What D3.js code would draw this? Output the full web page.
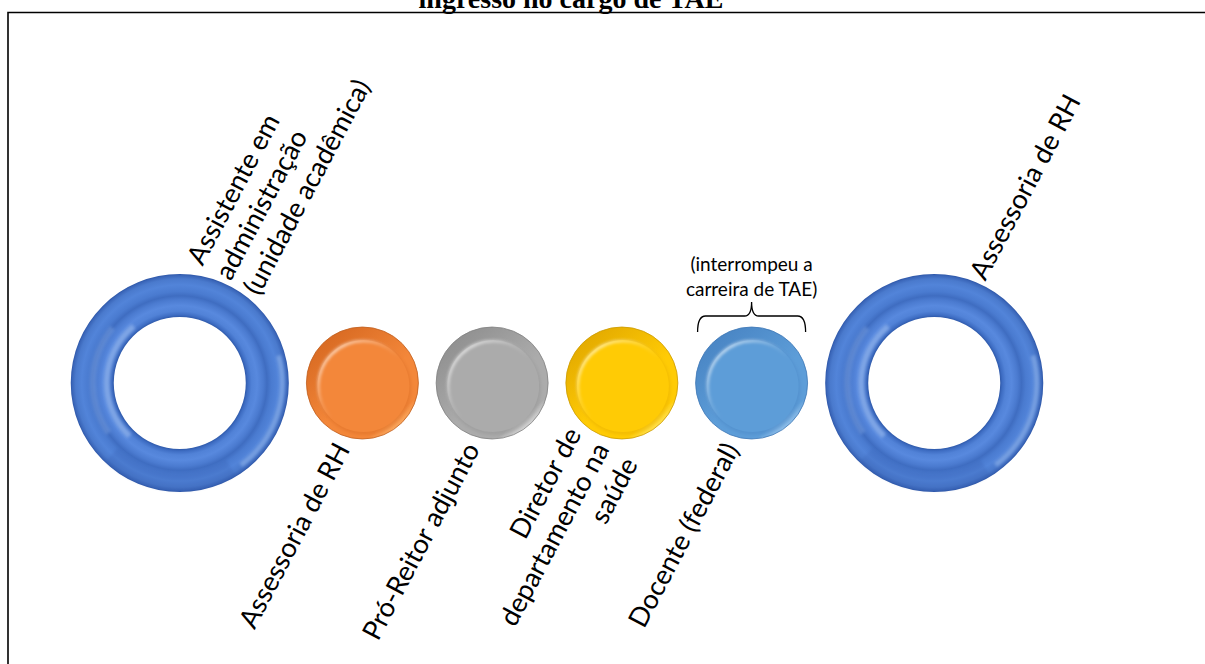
<!DOCTYPE html>
<html>
<head>
<meta charset="utf-8">
<script src="https://cdn.jsdelivr.net/npm/d3@7"></script>
<style>
  html, body { margin: 0; padding: 0; background: #fff; }
  svg { display: block; }
</style>
</head>
<body>
<svg id="chart" width="1205" height="664"></svg>
<script>
// ---- content ----------------------------------------------------------
const titleText = "ingresso no cargo de TAE";
const stageLabels = [
  ["Assistente em", "administração", "(unidade acadêmica)"],
  ["Assessoria de RH"],
  ["Pró-Reitor adjunto"],
  ["Diretor de", "departamento na", "saúde"],
  ["Docente (federal)"],
  ["Assessoria de RH"]
];
const stageKinds = ["ring", "dot", "dot", "dot", "dot", "ring"];
const stageTones = ["blue", "orange", "gray", "gold", "sky", "blue"];
const noteLines = ["(interrompeu a", "carreira de TAE)"];
const noteStage = 4;

// ---- layout constants -------------------------------------------------
const W = 1205, H = 664;
const RING_R = 109, RING_IN = 66, DOT_R = 56, GAP = 18;
const CY = 383;
const LABEL_ROT = -62;
const LABEL_FONT = "Lato, 'Open Sans', sans-serif";

const palettes = {
  orange: { dark: "#d8692195", base: "#f3873a", light: "#ffc27c", edge: "#c0601f" },
  gray:   { dark: "#909090", base: "#ababab", light: "#f2f2f2", edge: "#808080" },
  gold:   { dark: "#e3aa00", base: "#ffcb05", light: "#fff18a", edge: "#cc9a00" },
  sky:    { dark: "#4985c4", base: "#5d9dd8", light: "#b6d8f6", edge: "#4079b6" }
};
palettes.orange.dark = "#d86a22";

const svg = d3.select("#chart");
const defs = svg.append("defs");

// cumulative horizontal extent of each stage (diameters + gaps)
const radii = stageKinds.map(k => k === "ring" ? RING_R : DOT_R);
const centersU = [];
let acc = 0;
radii.forEach((r, i) => {
  if (i > 0) acc += GAP;
  centersU.push(acc + r);
  acc += 2 * r;
});
const x = d3.scaleLinear().domain([0, acc]).range([71, 1043]);
const cx = centersU.map(u => x(u));

// ---- frame & title ----------------------------------------------------
svg.append("path")
  .attr("d", `M8,${H} L8,12.5 L${W},12.5`)
  .attr("fill", "none").attr("stroke", "#000").attr("stroke-width", 1.6);

svg.append("text")
  .attr("x", 571).attr("y", 8)
  .attr("text-anchor", "middle")
  .attr("font-family", "'Liberation Serif', 'Times New Roman', serif")
  .attr("font-weight", "bold")
  .attr("font-size", 28)
  .text(titleText);

// ---- gradients & filters ----------------------------------------------
const soft = defs.append("filter").attr("id", "soft")
  .attr("x", "-20%").attr("y", "-20%").attr("width", "140%").attr("height", "140%");
soft.append("feGaussianBlur").attr("stdDeviation", 1.8);

const ringStops = [
  [RING_IN / RING_R, "#2f5aab"],
  [0.625, "#3e6dc3"],
  [0.66, "#5182d7"],
  [0.71, "#5889de"],
  [0.765, "#4b7bd0"],
  [0.80, "#3f6dc1"],
  [0.84, "#4a7bd0"],
  [0.90, "#5284d9"],
  [0.955, "#4a7acd"],
  [0.985, "#3b67ba"],
  [1.0, "#2e57a8"]
];
const rg = defs.append("radialGradient").attr("id", "ringGrad")
  .attr("cx", 0.5).attr("cy", 0.5).attr("r", 0.5);
rg.selectAll("stop").data(ringStops).join("stop")
  .attr("offset", d => d[0]).attr("stop-color", d => d[1]);

Object.entries(palettes).forEach(([key, p]) => {
  const rim = defs.append("linearGradient").attr("id", `rim-${key}`)
    .attr("x1", 0.15).attr("y1", 0.1).attr("x2", 0.85).attr("y2", 0.95);
  rim.append("stop").attr("offset", 0).attr("stop-color", p.dark);
  rim.append("stop").attr("offset", 0.55).attr("stop-color", p.base);
  rim.append("stop").attr("offset", 0.85).attr("stop-color", p.base);
  rim.append("stop").attr("offset", 1).attr("stop-color", p.light);
});

const gloss = defs.append("linearGradient").attr("id", "gloss")
  .attr("x1", 0.1).attr("y1", 0.15).attr("x2", 0.6).attr("y2", 0.7);
gloss.append("stop").attr("offset", 0).attr("stop-color", "#fff").attr("stop-opacity", 0.7);
gloss.append("stop").attr("offset", 0.5).attr("stop-color", "#fff").attr("stop-opacity", 0.15);
gloss.append("stop").attr("offset", 0.75).attr("stop-color", "#fff").attr("stop-opacity", 0);

// ---- stages -----------------------------------------------------------
const arc = d3.arc();
const stages = svg.append("g").selectAll("g")
  .data(stageKinds.map((k, i) => ({ kind: k, tone: stageTones[i], lines: stageLabels[i], x: cx[i], r: radii[i], i })))
  .join("g")
  .attr("transform", d => `translate(${d.x},${CY})`);

// rings (torus look)
const rings = stages.filter(d => d.kind === "ring");
rings.append("path")
  .attr("d", arc({ innerRadius: RING_IN, outerRadius: RING_R, startAngle: 0, endAngle: 2 * Math.PI }))
  .attr("fill", "url(#ringGrad)");
// soft light on the left of the inner band
rings.append("path")
  .attr("d", arc({ innerRadius: 70, outerRadius: 76, startAngle: 3.9, endAngle: 5.6 }))
  .attr("fill", "#a9c6f3").attr("opacity", 0.5).attr("filter", "url(#soft)");
rings.append("path")
  .attr("d", arc({ innerRadius: 84, outerRadius: 90, startAngle: 4.1, endAngle: 5.4 }))
  .attr("fill", "#8fb3ec").attr("opacity", 0.35).attr("filter", "url(#soft)");
// light on the lower-right of the outer band
rings.append("path")
  .attr("d", arc({ innerRadius: 100, outerRadius: 105, startAngle: 1.3, endAngle: 2.5 }))
  .attr("fill", "#a9c8f4").attr("opacity", 0.45).attr("filter", "url(#soft)");
// shading at the bottom of the ring
rings.append("path")
  .attr("d", arc({ innerRadius: 90, outerRadius: 108, startAngle: 2.6, endAngle: 3.9 }))
  .attr("fill", "#26489a").attr("opacity", 0.15).attr("filter", "url(#soft)");

// dots (bevelled buttons)
const dots = stages.filter(d => d.kind === "dot");
dots.append("circle").attr("r", DOT_R)
  .attr("fill", d => `url(#rim-${d.tone})`)
  .attr("stroke", d => palettes[d.tone].edge).attr("stroke-width", 0.8);
dots.append("circle").attr("r", DOT_R - 9).attr("cx", 2).attr("cy", 5)
  .attr("fill", d => palettes[d.tone].dark).attr("opacity", 0.4)
  .attr("filter", "url(#soft)");
dots.append("circle").attr("r", DOT_R - 10).attr("cx", 1).attr("cy", 3)
  .attr("fill", d => palettes[d.tone].base);
dots.append("circle").attr("r", DOT_R - 11).attr("cx", 1).attr("cy", 3)
  .attr("fill", "none").attr("stroke", "url(#gloss)").attr("stroke-width", 2.5)
  .attr("filter", "url(#soft)");

// ---- rotated stage labels ---------------------------------------------
const LH = 32;
stages.each(function (d) {
  const g = d3.select(this);
  const top = d.kind === "ring";
  const ang = (top ? -68 : 108) * Math.PI / 180;
  const dist = top ? d.r + 5 : d.r + 9;
  const ax = dist * Math.cos(ang), ay = dist * Math.sin(ang);
  const n = d.lines.length;
  const t = g.append("text")
    .attr("transform", `translate(${ax},${ay}) rotate(${LABEL_ROT})`)
    .attr("text-anchor", top ? "start" : "end")
    .attr("font-family", LABEL_FONT)
    .attr("font-size", 27)
    .attr("fill", "#000");
  t.selectAll("tspan").data(d.lines).join("tspan")
    .attr("x", 0)
    .attr("y", (s, j) => (j - (n - 1) / 2) * LH)
    .attr("dy", "0.35em")
    .text(s => s);
});

// ---- note with brace over the interrupted stage ------------------------
const nx = cx[noteStage];
const note = svg.append("g");
note.append("text")
  .attr("text-anchor", "middle")
  .attr("font-family", LABEL_FONT)
  .attr("font-size", 19)
  .selectAll("tspan").data(noteLines).join("tspan")
  .attr("x", nx)
  .attr("y", (s, j) => 271 + j * 25)
  .text(s => s);

const bL = nx - 54, bR = nx + 54, bY = 316;
note.append("path")
  .attr("d", `M${bL},332 Q${bL},${bY} ${bL + 8},${bY} L${nx - 7},${bY} Q${nx},${bY} ${nx},302 ` +
             `Q${nx},${bY} ${nx + 7},${bY} L${bR - 8},${bY} Q${bR},${bY} ${bR},332`)
  .attr("fill", "none").attr("stroke", "#000").attr("stroke-width", 1.3);
</script>
</body>
</html>
